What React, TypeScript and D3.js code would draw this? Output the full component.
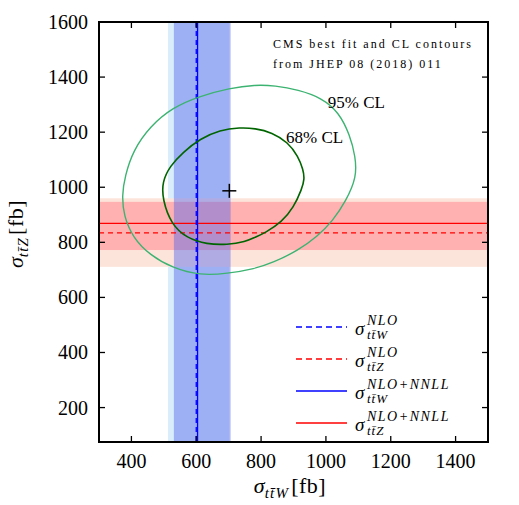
import React from 'react';
import * as d3 from 'd3';

// axis extents and ticks
const xDomain = [300, 1500];
const yDomain = [75, 1600];
const xTicks = [400, 600, 800, 1000, 1200, 1400];
const yTicks = [200, 400, 600, 800, 1000, 1200, 1400, 1600];

// theory predictions [fb]
const ttwNloBand = [513, 702];
const ttwNnllBand = [531, 706];
const ttzNloBand = [711, 960];
const ttzNnllBand = [772, 947];
const ttwNlo = 600;
const ttwNnll = 604;
const ttzNlo = 834;
const ttzNnll = 869;

// CMS best fit and contours (sigma_ttW, sigma_ttZ)
const bestFit: [number, number] = [702, 987];
const contour95: [number, number][] = [
  [781, 1372], [843, 1369], [914, 1354], [988, 1324], [1040, 1272], [1074, 1190],
  [1091, 1112], [1095, 1037], [1062, 950], [1020, 876], [975, 823], [914, 770],
  [836, 726], [781, 704], [695, 686], [612, 680], [528, 706], [457, 754],
  [405, 816], [376, 897], [371, 972], [380, 1040], [405, 1133], [457, 1221],
  [528, 1290], [608, 1330], [704, 1360],
];
const contour68: [number, number][] = [
  [735, 1217], [781, 1214], [834, 1199], [883, 1163], [914, 1113], [930, 1064],
  [934, 1030], [926, 994], [900, 926], [864, 874], [812, 834], [781, 818],
  [752, 802], [695, 791], [633, 793], [571, 815], [523, 865], [496, 955],
  [495, 1020], [519, 1077], [559, 1127], [612, 1176], [673, 1208],
];
const clLabels = [
  { text: '95% CL', x: 1006, y: 1288 },
  { text: '68% CL', x: 877, y: 1160 },
];

const legendEntries = [
  { sup: 'NLO', sub: 'W', color: '#0000ff', dashed: true },
  { sup: 'NLO', sub: 'Z', color: '#ff0000', dashed: true },
  { sup: 'NLO+NNLL', sub: 'W', color: '#0000ff', dashed: false },
  { sup: 'NLO+NNLL', sub: 'Z', color: '#ff0000', dashed: false },
];

const W = 519;
const H = 505;
const plot = { left: 99, right: 488, top: 22, bottom: 442 };
const serif = "'Liberation Serif', 'DejaVu Serif', serif";
const TBAR = 't\u0304';

export default function App() {
  const x = d3.scaleLinear().domain(xDomain).range([plot.left, plot.right]);
  const y = d3.scaleLinear().domain(yDomain).range([plot.bottom, plot.top]);

  const contourLine = d3
    .line<[number, number]>()
    .x(d => x(d[0]))
    .y(d => y(d[1]))
    .curve(d3.curveBasisClosed);

  const pw = plot.right - plot.left;
  const ph = plot.bottom - plot.top;
  const tick = 6;

  const axisTitle = (sub: string) => (
    <>
      <tspan fontStyle="italic" fontSize={22}>σ</tspan>
      <tspan fontSize={15} dy={5} fontStyle="italic" letterSpacing={1.2}>{'t' + TBAR + sub}</tspan>
      <tspan dy={-5} dx={2} fontSize={22} letterSpacing={0.5}>[fb]</tspan>
    </>
  );

  return (
    <div style={{ position: 'absolute', left: 0, top: 0 }}>
      <svg width={W} height={H} style={{ display: 'block', background: '#fff' }} fontFamily={serif}>
        <defs>
          <clipPath id="plot-clip">
            <rect x={plot.left} y={plot.top} width={pw} height={ph} />
          </clipPath>
        </defs>

        <g clipPath="url(#plot-clip)">
          {/* bands */}
          <rect x={x(ttwNloBand[0])} y={plot.top} width={x(ttwNloBand[1]) - x(ttwNloBand[0])} height={ph} fill="#d9edfa" />
          <rect x={plot.left} y={y(ttzNloBand[1])} width={pw} height={y(ttzNloBand[0]) - y(ttzNloBand[1])} fill="#fde4db" />
          <rect x={plot.left} y={y(ttzNnllBand[1])} width={pw} height={y(ttzNnllBand[0]) - y(ttzNnllBand[1])} fill="#ffb0b0" />
          <rect x={x(ttwNnllBand[0])} y={plot.top} width={x(ttwNnllBand[1]) - x(ttwNnllBand[0])} height={ph} fill="#5566ee" fillOpacity={0.45} />

          {/* central values */}
          <line x1={plot.left} x2={plot.right} y1={y(ttzNnll)} y2={y(ttzNnll)} stroke="#ff0000" strokeWidth={1.3} />
          <line x1={plot.left} x2={plot.right} y1={y(ttzNlo)} y2={y(ttzNlo)} stroke="#ff0000" strokeWidth={1.3} strokeDasharray="5,4" />
          <line x1={x(ttwNnll)} x2={x(ttwNnll)} y1={plot.top} y2={plot.bottom} stroke="#0000ff" strokeWidth={1.3} />
          <line x1={x(ttwNlo)} x2={x(ttwNlo)} y1={plot.top} y2={plot.bottom} stroke="#0000ff" strokeWidth={1.3} strokeDasharray="5,4" />

          {/* CMS contours */}
          <path d={contourLine(contour95) ?? ''} fill="none" stroke="#3cb371" strokeWidth={1.4} />
          <path d={contourLine(contour68) ?? ''} fill="none" stroke="#006400" strokeWidth={1.6} />
          <line x1={x(bestFit[0]) - 7} x2={x(bestFit[0]) + 7} y1={y(bestFit[1])} y2={y(bestFit[1])} stroke="#000" strokeWidth={1.5} />
          <line x1={x(bestFit[0])} x2={x(bestFit[0])} y1={y(bestFit[1]) - 7} y2={y(bestFit[1]) + 7} stroke="#000" strokeWidth={1.5} />
        </g>

        {clLabels.map(l => (
          <text key={l.text} x={x(l.x)} y={y(l.y)} fontSize={17}>{l.text}</text>
        ))}

        <text x={273} y={48} fontSize={12} letterSpacing={2}>CMS best fit and CL contours</text>
        <text x={273} y={68} fontSize={12} letterSpacing={2}>from JHEP 08 (2018) 011</text>

        {/* legend */}
        {legendEntries.map((e, i) => {
          const ry = 327 + i * 32;
          return (
            <g key={i}>
              <line x1={296} x2={347} y1={ry} y2={ry} stroke={e.color} strokeWidth={1.5} strokeDasharray={e.dashed ? '6,4' : undefined} />
              <text x={355} y={ry + 8} fontSize={19} fontStyle="italic">σ</text>
              <text x={367} y={ry - 2} fontSize={14} fontStyle="italic" letterSpacing={1.5}>{e.sup}</text>
              <text x={367} y={ry + 12} fontSize={13} fontStyle="italic" letterSpacing={1}>{'t' + TBAR + e.sub}</text>
            </g>
          );
        })}

        {/* ticks */}
        {xTicks.map(t => (
          <g key={'x' + t}>
            <line x1={x(t)} x2={x(t)} y1={plot.bottom} y2={plot.bottom - tick} stroke="#000" strokeWidth={1.3} />
            <line x1={x(t)} x2={x(t)} y1={plot.top} y2={plot.top + tick} stroke="#000" strokeWidth={1.3} />
            <text x={x(t)} y={468} fontSize={20} textAnchor="middle">{t}</text>
          </g>
        ))}
        {yTicks.map(t => (
          <g key={'y' + t}>
            <line x1={plot.left} x2={plot.left + tick} y1={y(t)} y2={y(t)} stroke="#000" strokeWidth={1.3} />
            <line x1={plot.right} x2={plot.right - tick} y1={y(t)} y2={y(t)} stroke="#000" strokeWidth={1.3} />
            <text x={88} y={y(t) + 7} fontSize={20} textAnchor="end">{t}</text>
          </g>
        ))}

        <rect x={plot.left} y={plot.top} width={pw} height={ph} fill="none" stroke="#000" strokeWidth={2} />

        {/* axis titles */}
        <text x={290} y={493} textAnchor="middle">{axisTitle('W')}</text>
        <text transform="translate(23,234) rotate(-90)" textAnchor="middle">{axisTitle('Z')}</text>
      </svg>
    </div>
  );
}
